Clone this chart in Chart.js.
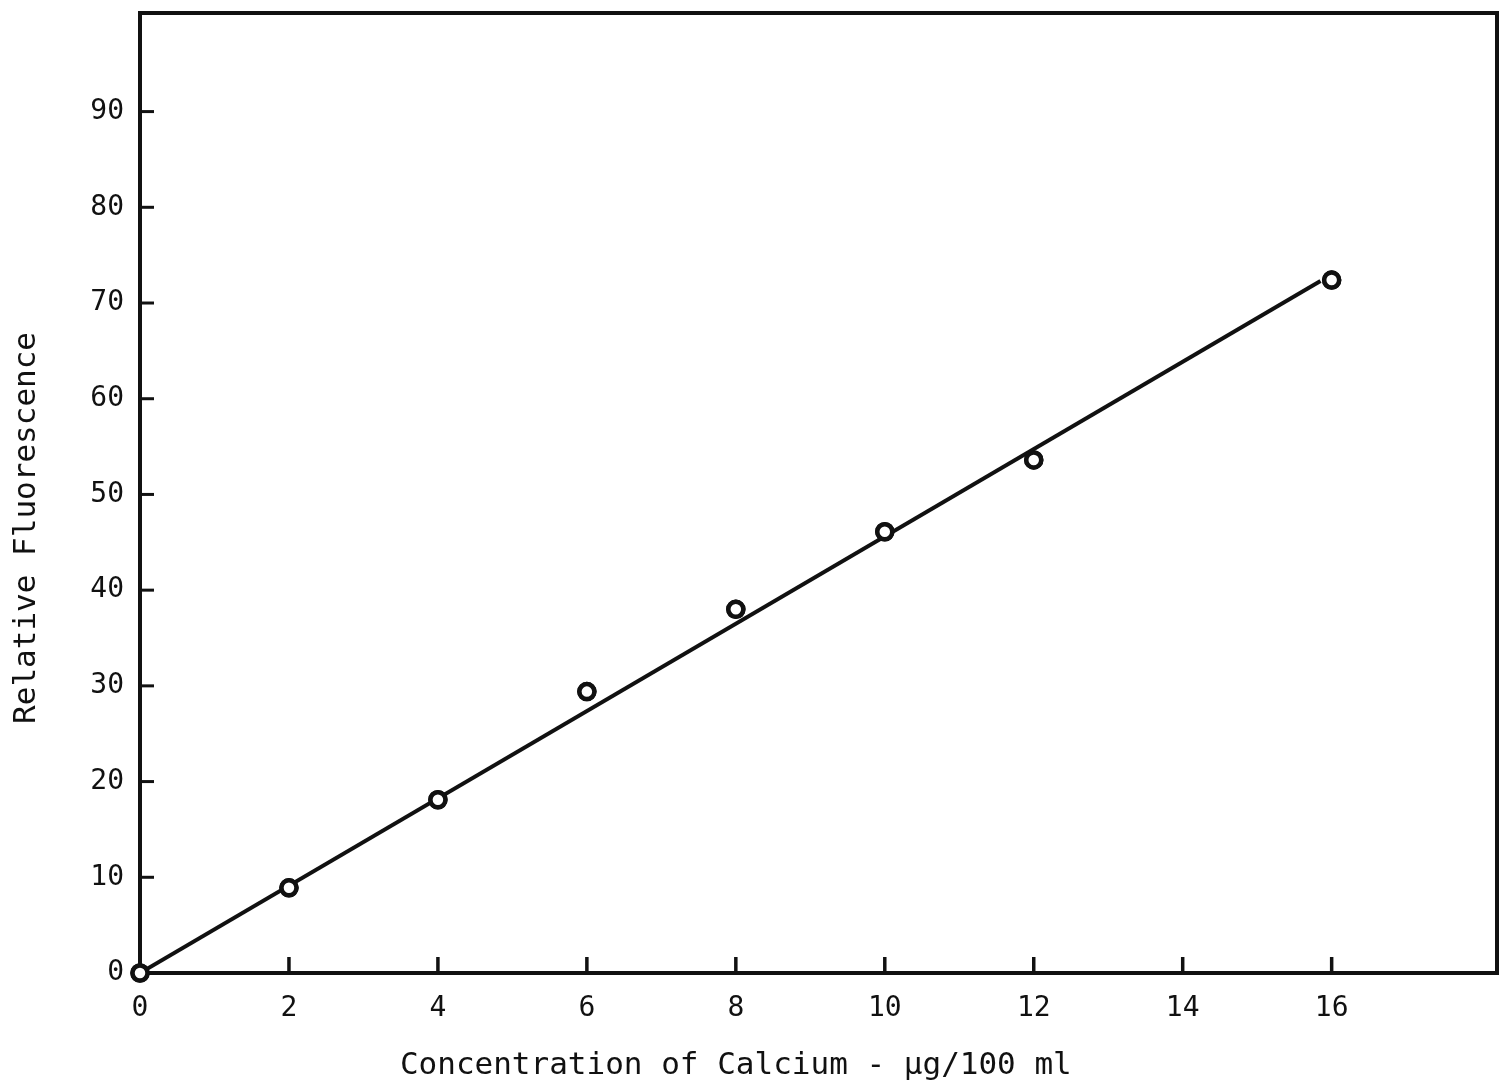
<!DOCTYPE html>
<html>
<head>
<meta charset="utf-8">
<title>Relative Fluorescence vs Calcium Concentration</title>
<script src="https://cdn.jsdelivr.net/npm/chart.js@4.4.1/dist/chart.umd.min.js"></script>
<style>
  html, body { margin: 0; padding: 0; background: #fff; overflow: hidden; }
  #wrap { width: 1500px; height: 1086px; position: relative; }
  #chart { display: block; }
</style>
</head>
<body>
<div id="wrap"><canvas id="chart"></canvas></div>
<script>
// Calcium standards (µg/100 ml) and measured relative fluorescence
const concentration = [0, 2, 4, 6, 8, 10, 12, 16];
const fluorescence = [0, 8.9, 18.1, 29.4, 38.0, 46.1, 53.6, 72.4];

// Straight calibration line drawn through the standards
const lineX = [0, 15.85];
const lineY = [0, 72.3];

// Axis tick labels
const xTickValues = [0, 2, 4, 6, 8, 10, 12, 14, 16];
const yTickValues = [0, 10, 20, 30, 40, 50, 60, 70, 80, 90];

const xTitle = 'Concentration of Calcium - \u00B5g/100 ml';
const yTitle = 'Relative Fluorescence';

const FONT = '"DejaVu Sans Mono", "Liberation Mono", monospace';
const INK = '#111';

// Box frame, inward tick marks and axis titles
const framePlugin = {
  id: 'frame',
  afterDatasetsDraw(chart) {
    const { ctx, chartArea: a, scales } = chart;
    const xs = scales.x, ys = scales.y;
    ctx.save();
    ctx.strokeStyle = INK;
    ctx.lineCap = 'butt';
    // inward ticks
    ctx.lineWidth = 3.5;
    xTickValues.forEach(v => {
      if (v === 0) return;
      const px = xs.getPixelForValue(v);
      ctx.beginPath();
      ctx.moveTo(px, a.bottom);
      ctx.lineTo(px, a.bottom - 16);
      ctx.stroke();
    });
    ctx.lineWidth = 3;
    yTickValues.forEach(v => {
      if (v === 0) return;
      const py = ys.getPixelForValue(v);
      ctx.beginPath();
      ctx.moveTo(a.left, py);
      ctx.lineTo(a.left + 14, py);
      ctx.stroke();
    });
    // frame
    ctx.lineWidth = 4;
    ctx.strokeRect(a.left, a.top, a.right - a.left, a.bottom - a.top);
    // titles
    ctx.fillStyle = INK;
    ctx.font = '31px ' + FONT;
    ctx.textAlign = 'center';
    ctx.textBaseline = 'middle';
    ctx.fillText(xTitle, xs.getPixelForValue(8), 1066);
    ctx.translate(27, ys.getPixelForValue(46.5));
    ctx.rotate(-Math.PI / 2);
    ctx.fillText(yTitle, 0, 0);
    ctx.restore();
  }
};

// Redraw the standard markers above the frame so the origin point stays whole
const markersOnTop = {
  id: 'markersOnTop',
  afterDraw(chart) {
    const meta = chart.getDatasetMeta(0);
    meta.data.forEach(el => el.draw(chart.ctx));
  }
};

new Chart(document.getElementById('chart'), {
  type: 'scatter',
  data: {
    datasets: [
      {
        label: 'Standards',
        data: concentration.map((x, i) => ({ x, y: fluorescence[i] })),
        pointRadius: 7.5,
        pointBorderWidth: 4.5,
        pointBackgroundColor: '#fff',
        pointBorderColor: INK,
        showLine: false,
        clip: false,
        order: 0
      },
      {
        label: 'Calibration line',
        data: lineX.map((x, i) => ({ x, y: lineY[i] })),
        showLine: true,
        borderColor: INK,
        borderWidth: 4,
        pointRadius: 0,
        order: 1
      }
    ]
  },
  options: {
    responsive: true,
    maintainAspectRatio: false,
    animation: false,
    layout: { autoPadding: false, padding: { top: 13, right: 3, left: 0, bottom: 0 } },
    plugins: {
      legend: { display: false },
      tooltip: { enabled: false }
    },
    scales: {
      x: {
        type: 'linear',
        min: 0,
        max: 18.22,
        afterBuildTicks: s => { s.ticks = xTickValues.map(v => ({ value: v })); },
        afterFit: s => { s.height = 113; s.paddingLeft = 0; s.paddingRight = 0; },
        grid: { display: false },
        border: { display: false },
        ticks: {
          color: INK,
          padding: 11,
          font: { family: FONT, size: 28 },
          maxRotation: 0,
          autoSkip: false
        }
      },
      y: {
        type: 'linear',
        min: 0,
        max: 100.3,
        afterBuildTicks: s => { s.ticks = yTickValues.map(v => ({ value: v })); },
        afterFit: s => { s.width = 140; s.paddingTop = 0; s.paddingBottom = 0; },
        grid: { display: false },
        border: { display: false },
        ticks: {
          color: INK,
          padding: 8,
          font: { family: FONT, size: 28 },
          autoSkip: false
        }
      }
    }
  },
  plugins: [framePlugin, markersOnTop]
});
</script>
</body>
</html>
